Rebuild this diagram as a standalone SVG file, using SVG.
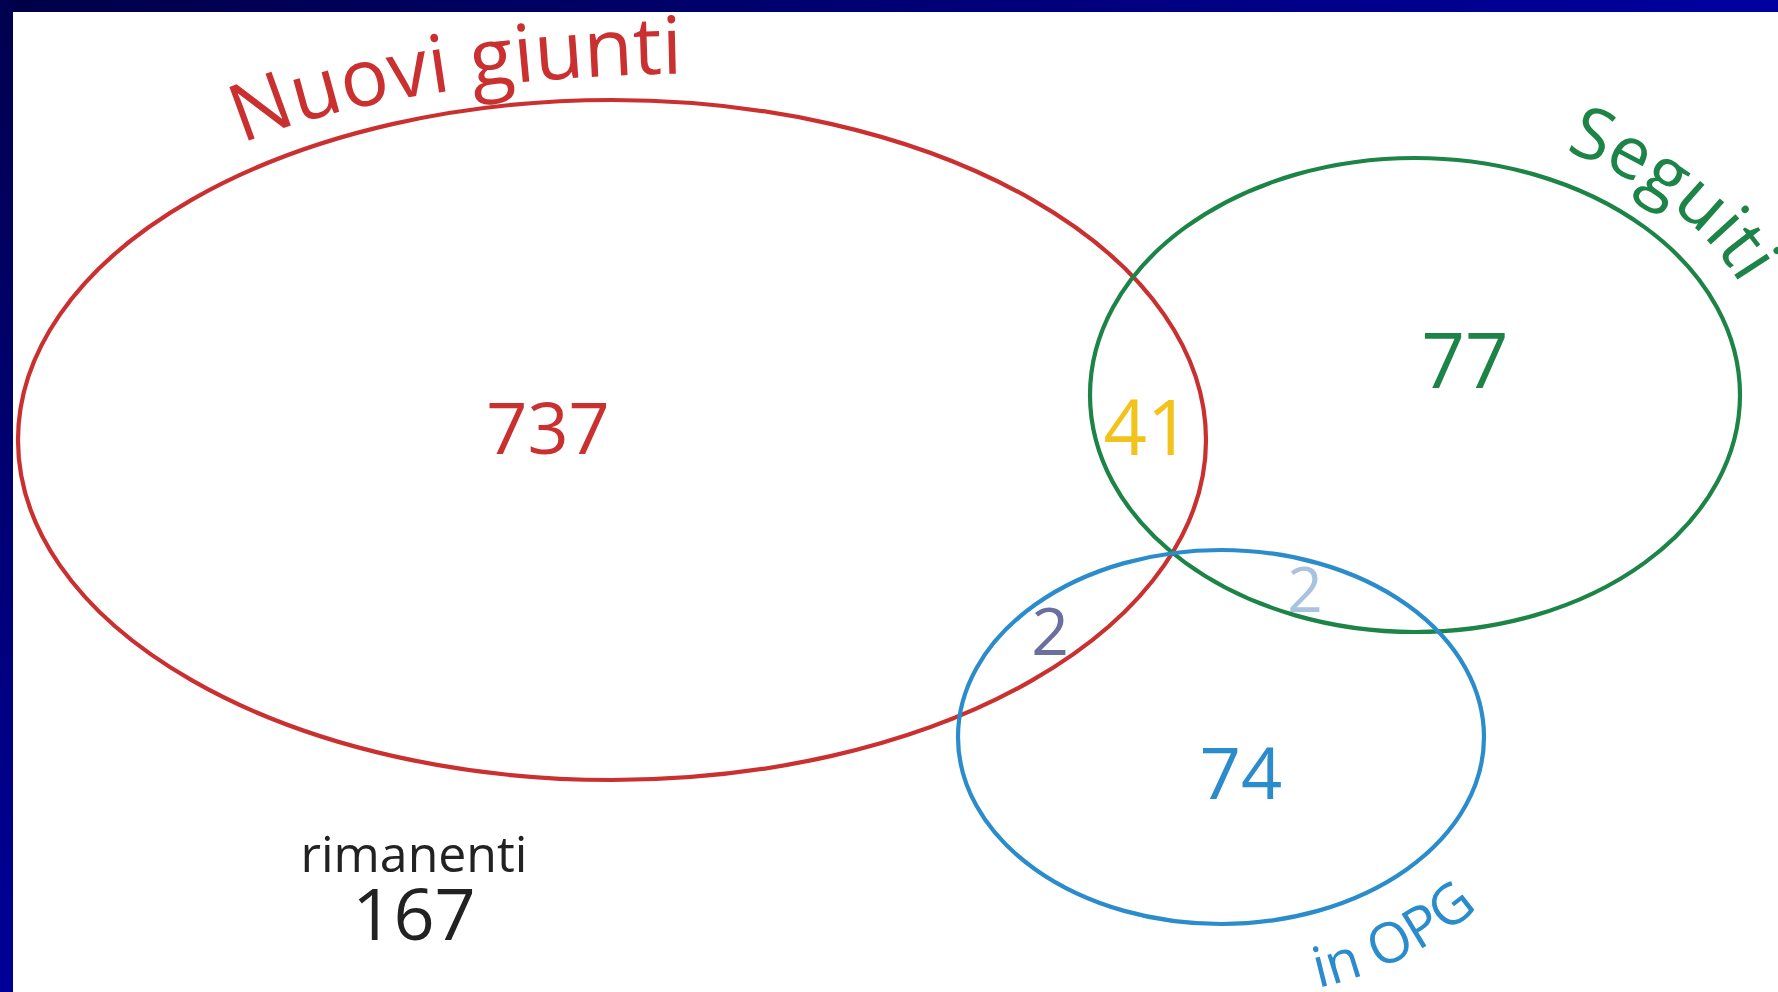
<svg xmlns="http://www.w3.org/2000/svg" width="1778" height="992" viewBox="0 0 1778 992">
<defs>
<linearGradient id="topbar" x1="0" y1="0" x2="1" y2="0">
<stop offset="0" stop-color="#000048"/>
<stop offset="1" stop-color="#0000a0"/>
</linearGradient>
<linearGradient id="leftbar" x1="0" y1="0" x2="0" y2="1">
<stop offset="0" stop-color="#000050"/>
<stop offset="1" stop-color="#000098"/>
</linearGradient>
<path id="pNuovi" d="M 242,144 Q 400,77 705,73"/>
<path id="pSeguiti" d="M 1565,151 A 357 269 0 0 1 1772,395"/>
<path id="pOPG" d="M 1318,988 A 340 263 0 0 0 1561,737"/>
</defs>
<style>
.set{fill:none;stroke-width:4.2}
.lbl{font-family:"Open Sans","Noto Sans","DejaVu Sans",sans-serif}
.num{font-family:"Open Sans","Noto Sans","DejaVu Sans",sans-serif;text-anchor:middle}
</style>
<rect x="0" y="0" width="1778" height="992" fill="#ffffff"/>

<g id="connectors"></g>

<g id="nuovi-giunti">
<ellipse class="set" cx="612" cy="440" rx="594" ry="340" stroke="#c9302f"/>
<text class="lbl" font-size="80" fill="#c9302f"><textPath href="#pNuovi">Nuovi giunti</textPath></text>
<text class="num" x="548" y="454" font-size="72" fill="#c9302f">737</text>
</g>

<g id="seguiti">
<ellipse class="set" cx="1415" cy="395" rx="325" ry="237" stroke="#1d8447"/>
<text class="lbl" font-size="72" fill="#1d8447"><textPath href="#pSeguiti">Seguiti</textPath></text>
<text class="num" x="1465" y="388" font-size="76" fill="#1d8447">77</text>
</g>

<g id="in-opg">
<ellipse class="set" cx="1221" cy="737" rx="263" ry="187" stroke="#2a8ccb"/>
<text class="lbl" font-size="56" fill="#2a8ccb"><textPath href="#pOPG">in OPG</textPath></text>
<text class="num" x="1241" y="799" font-size="72" fill="#2a8ccb">74</text>
</g>

<g id="intersections">
<text class="num" x="1147" y="455" font-size="76" fill="#f2c31c">41</text>
<text class="num" x="1050" y="655" font-size="66" fill="#6a6f9f">2</text>
<text class="num" x="1305" y="612" font-size="62" fill="#a9c3df">2</text>
</g>

<g id="rimanenti">
<text class="num" x="414" y="872" font-size="50" fill="#222222">rimanenti</text>
<text class="num" x="414" y="940" font-size="72" fill="#222222">167</text>
</g>

<rect x="0" y="0" width="1778" height="12" fill="url(#topbar)"/>
<rect x="0" y="0" width="13" height="992" fill="url(#leftbar)"/>
</svg>
